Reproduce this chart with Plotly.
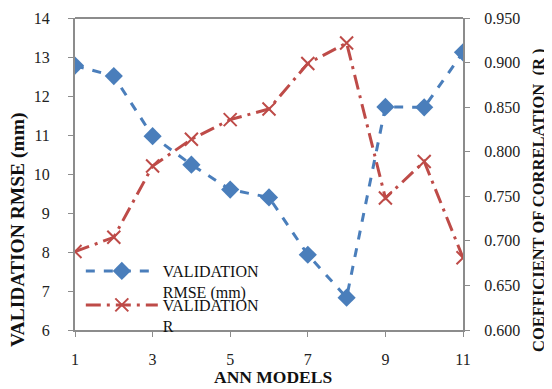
import plotly.graph_objects as go

models = [1, 2, 3, 4, 5, 6, 7, 8, 9, 10, 11]
rmse = [12.78, 12.51, 10.97, 10.24, 9.60, 9.40, 7.93, 6.83, 11.72, 11.71, 13.12]
r_vals = [0.688, 0.704, 0.784, 0.814, 0.836, 0.848, 0.899, 0.922, 0.748, 0.789, 0.681]
x_ticks = [1, 3, 5, 7, 9, 11]

font_family = "Liberation Serif"
blue = "#4a7ebb"
red = "#be4b48"

fig = go.Figure()
fig.add_trace(go.Scatter(
    x=models, y=rmse, name="VALIDATION<br>RMSE (mm)", mode="lines+markers",
    line=dict(color=blue, width=3, dash="dash"),
    marker=dict(symbol="diamond", size=14, color=blue),
    yaxis="y", legend="legend"))
fig.add_trace(go.Scatter(
    x=models, y=r_vals, name="VALIDATION<br>R", mode="lines+markers",
    line=dict(color=red, width=3, dash="longdashdot"),
    marker=dict(symbol="x-thin", size=13, color=red, line=dict(color=red, width=2)),
    yaxis="y2", legend="legend2"))

axis_common = dict(showgrid=False, zeroline=False, showline=True, linecolor="#8c8c8c",
                   linewidth=2, ticks="outside", tickcolor="#8c8c8c", ticklen=5,
                   automargin=False,
                   tickfont=dict(family=font_family, size=16, color="#222"))

legend_common = dict(x=0.015, xanchor="left", yanchor="top", bgcolor="rgba(0,0,0,0)",
                     font=dict(family=font_family, size=16, color="#111"),
                     itemwidth=72, valign="top")

fig.update_layout(
    width=544, height=381,
    margin=dict(l=67, r=89, t=10, b=59),
    paper_bgcolor="white", plot_bgcolor="white",
    font=dict(family=font_family, color="#111"),
    xaxis=dict(range=[1, 11], tickvals=x_ticks, ticklabelstandoff=9, **axis_common),
    yaxis=dict(range=[6, 14], dtick=1, ticklabelstandoff=15, **axis_common),
    yaxis2=dict(range=[0.6, 0.95], dtick=0.05, tickformat=".3f", overlaying="y", side="right",
                ticklabelstandoff=11, **axis_common),
    legend=dict(y=0.2436, **legend_common),
    legend2=dict(y=0.1346, **legend_common),
    showlegend=True,
)

fig.add_annotation(text="<b>ANN MODELS</b>", xref="paper", yref="paper", x=0.510, y=-0.15,
                   showarrow=False, font=dict(family=font_family, size=17.5, color="#111"),
                   xanchor="center", yanchor="middle")
fig.add_annotation(text="<b>VALIDATION RMSE (mm)</b>", xref="paper", yref="paper", x=-0.147, y=0.3205,
                   showarrow=False, font=dict(family=font_family, size=19.5, color="#111"),
                   textangle=-90, xanchor="center", yanchor="middle")
fig.add_annotation(text="<b>COEFFICIENT OF CORRELATION  (R )</b>", xref="paper", yref="paper",
                   x=1.196, y=0.4167, showarrow=False, font=dict(family=font_family, size=16.5, color="#111"),
                   textangle=-90, xanchor="center", yanchor="middle")

fig.add_shape(type="line", xref="paper", yref="paper", x0=0, x1=1, y0=1, y1=1,
              line=dict(color="#8c8c8c", width=2))

fig.write_html("out.html")
